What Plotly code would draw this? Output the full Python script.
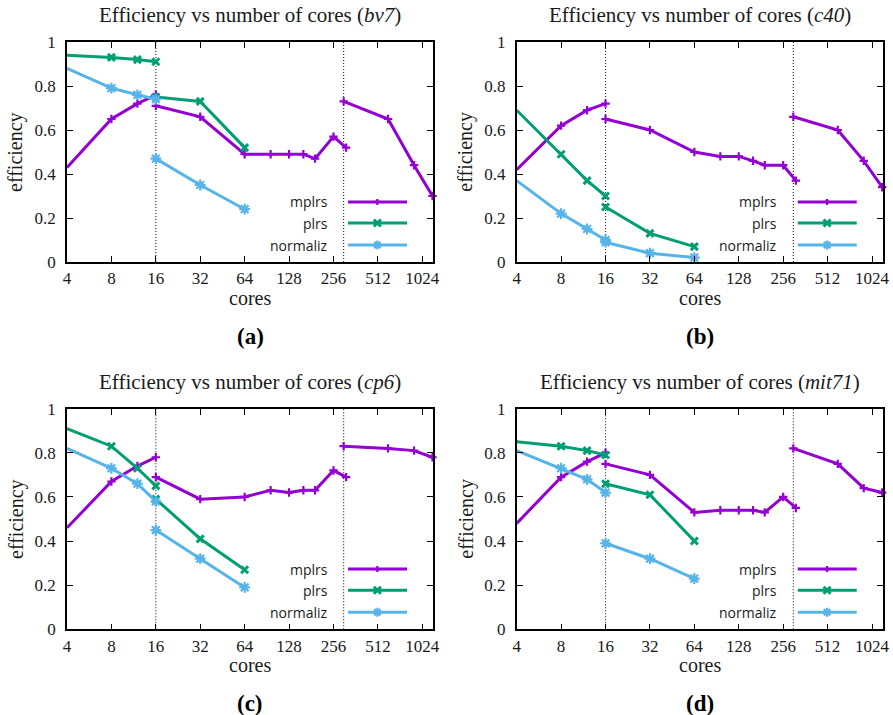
import math
import plotly.graph_objects as go

# ---------------- data ----------------
cores_ticks = [4, 8, 16, 32, 64, 128, 256, 512, 1024]
eff_ticks = [0, 0.2, 0.4, 0.6, 0.8, 1]
boundaries = [16, 300]

x_mplrs = [4, 8, 12, 16, None, 16, 32, 64, 96, 128, 160, 192, 256, 312, None, 300, 600, 900, 1200]
x_other = [4, 8, 12, 16, None, 16, 32, 64]

bv7_mplrs = [0.43, 0.65, 0.72, 0.76, None, 0.71, 0.66, 0.49, 0.49, 0.49, 0.49, 0.47, 0.57, 0.52, None, 0.73, 0.65, 0.44, 0.30]
bv7_plrs = [0.94, 0.93, 0.92, 0.91, None, 0.75, 0.73, 0.52]
bv7_normaliz = [0.88, 0.79, 0.76, 0.74, None, 0.47, 0.35, 0.24]

c40_mplrs = [0.42, 0.62, 0.69, 0.72, None, 0.65, 0.60, 0.50, 0.48, 0.48, 0.46, 0.44, 0.44, 0.37, None, 0.66, 0.60, 0.46, 0.34]
c40_plrs = [0.69, 0.49, 0.37, 0.30, None, 0.25, 0.13, 0.07]
c40_normaliz = [0.37, 0.22, 0.15, 0.10, None, 0.09, 0.04, 0.02]

cp6_mplrs = [0.46, 0.67, 0.74, 0.78, None, 0.69, 0.59, 0.60, 0.63, 0.62, 0.63, 0.63, 0.72, 0.69, None, 0.83, 0.82, 0.81, 0.78]
cp6_plrs = [0.91, 0.83, 0.73, 0.65, None, 0.59, 0.41, 0.27]
cp6_normaliz = [0.82, 0.73, 0.66, 0.58, None, 0.45, 0.32, 0.19]

mit71_mplrs = [0.48, 0.69, 0.76, 0.80, None, 0.75, 0.70, 0.53, 0.54, 0.54, 0.54, 0.53, 0.60, 0.55, None, 0.82, 0.75, 0.64, 0.62]
mit71_plrs = [0.85, 0.83, 0.81, 0.79, None, 0.66, 0.61, 0.40]
mit71_normaliz = [0.81, 0.73, 0.68, 0.62, None, 0.39, 0.32, 0.23]

instances = ["bv7", "c40", "cp6", "mit71"]
panel_labels = ["(a)", "(b)", "(c)", "(d)"]
series_names = ["mplrs", "plrs", "normaliz"]

# ---------------- styling ----------------
W, H = 893, 715
colors = {"mplrs": "#9400D3", "plrs": "#009E73", "normaliz": "#56B4E9"}
markers = {
    "mplrs": dict(symbol="cross-thin-open", size=6, line=dict(width=2.2, color=colors["mplrs"])),
    "plrs": dict(symbol="x-thin-open", size=7, line=dict(width=3, color=colors["plrs"])),
    "normaliz": dict(symbol="asterisk-open", size=9, line=dict(width=2.2, color=colors["normaliz"])),
}
serif = "Liberation Serif"
sans = "Open Sans"
txt = "#1a1a1a"

# plot-area boxes in pixels (left, right, top, bottom)
boxes = [
    (67, 433, 42, 262),
    (516.7, 882.7, 42, 262),
    (67, 433, 408.7, 629.3),
    (516.7, 882.7, 408.7, 629.3),
]

data = {
    "bv7": (bv7_mplrs, bv7_plrs, bv7_normaliz),
    "c40": (c40_mplrs, c40_plrs, c40_normaliz),
    "cp6": (cp6_mplrs, cp6_plrs, cp6_normaliz),
    "mit71": (mit71_mplrs, mit71_plrs, mit71_normaliz),
}

fig = go.Figure()
annotations = []
shapes = []

xr = [math.log10(4), math.log10(1210)]

for i, inst in enumerate(instances):
    L, R, T, B = boxes[i]
    xa = "x" if i == 0 else f"x{i+1}"
    ya = "y" if i == 0 else f"y{i+1}"
    xkey = "xaxis" if i == 0 else f"xaxis{i+1}"
    ykey = "yaxis" if i == 0 else f"yaxis{i+1}"
    fig.layout[xkey] = dict(
        domain=[L / W, R / W], anchor=ya, type="log", range=xr,
        tickvals=cores_ticks, ticktext=[str(v) for v in cores_ticks],
        ticks="inside", ticklen=6, tickwidth=1.3, tickcolor="black",
        showline=True, linecolor="black", linewidth=1.6, mirror="ticks",
        showgrid=False, zeroline=False, automargin=False,
        tickfont=dict(family=serif, size=17, color=txt),
    )
    fig.layout[ykey] = dict(
        domain=[1 - B / H, 1 - T / H], anchor=xa, range=[0, 1],
        tickvals=eff_ticks, ticktext=["0", "0.2", "0.4", "0.6", "0.8", "1"],
        ticks="inside", ticklen=6, tickwidth=1.3, tickcolor="black",
        showline=True, linecolor="black", linewidth=1.6, mirror="ticks",
        showgrid=False, zeroline=False, ticklabelstandoff=6, automargin=False,
        tickfont=dict(family=serif, size=17, color=txt),
    )

    # boundary dotted lines
    for b in boundaries:
        shapes.append(dict(type="line", xref=xa, yref=f"{ya} domain", x0=b, x1=b, y0=0, y1=1,
                           line=dict(color="#222222", width=1.1, dash="1px,2px"), layer="below"))

    ys = data[inst]
    for name, yv, xv in zip(series_names, ys, [x_mplrs, x_other, x_other]):
        fig.add_trace(go.Scatter(
            x=xv, y=yv, mode="lines+markers", name=name, showlegend=False,
            line=dict(color=colors[name], width=3), marker=markers[name],
            xaxis=xa, yaxis=ya, connectgaps=False, cliponaxis=False,
        ))

    # titles and labels
    cx = (L + R) / 2
    annotations.append(dict(
        text=f"Efficiency vs number of cores (<i>{inst}</i>)", x=cx / W, y=1 - (T - 27) / H,
        xref="paper", yref="paper", showarrow=False, xanchor="center", yanchor="middle",
        font=dict(family=serif, size=21, color=txt)))
    annotations.append(dict(
        text="cores", x=cx / W, y=1 - (B + 36) / H, xref="paper", yref="paper",
        showarrow=False, xanchor="center", yanchor="middle",
        font=dict(family=serif, size=20, color=txt)))
    annotations.append(dict(
        text="efficiency", x=(L - 51) / W, y=1 - ((T + B) / 2) / H, xref="paper", yref="paper",
        showarrow=False, xanchor="center", yanchor="middle", textangle=-90,
        font=dict(family=serif, size=20, color=txt)))
    annotations.append(dict(
        text=f"<b>{panel_labels[i]}</b>", x=cx / W, y=1 - (B + 74) / H, xref="paper", yref="paper",
        showarrow=False, xanchor="center", yanchor="middle",
        font=dict(family=serif, size=23, color="black")))

    # in-plot key (text left of sample, gnuplot style)
    key_rows = [0.273, 0.177, 0.077]
    for name, ky in zip(series_names, key_rows):
        annotations.append(dict(
            text=name, x=0.718, y=ky, xref=f"{xa} domain", yref=f"{ya} domain",
            showarrow=False, xanchor="right", yanchor="middle",
            font=dict(family=sans, size=14, color=txt)))
        shapes.append(dict(type="line", xref=f"{xa} domain", yref=f"{ya} domain",
                           x0=0.768, x1=0.929, y0=ky, y1=ky,
                           line=dict(color=colors[name], width=3)))
        if name == "mplrs":
            path = "M-3,0L3,0M0,-3L0,3"
            lw = 2.2
        elif name == "plrs":
            path = "M-3.5,-3.5L3.5,3.5M-3.5,3.5L3.5,-3.5"
            lw = 3
        else:
            path = "M-4.5,0L4.5,0M0,-4.5L0,4.5M-3.2,-3.2L3.2,3.2M-3.2,3.2L3.2,-3.2"
            lw = 2.2
        shapes.append(dict(type="path", xref=f"{xa} domain", yref=f"{ya} domain",
                           xsizemode="pixel", ysizemode="pixel", xanchor=0.848, yanchor=ky,
                           path=path, line=dict(color=colors[name], width=lw)))

fig.update_layout(
    width=W, height=H, margin=dict(l=0, r=0, t=0, b=0),
    paper_bgcolor="white", plot_bgcolor="white",
    showlegend=False, annotations=annotations, shapes=shapes,
)

fig.write_html("out.html", config={"displayModeBar": False},
               post_script="document.body.style.margin='0px';document.body.style.overflow='hidden';")
